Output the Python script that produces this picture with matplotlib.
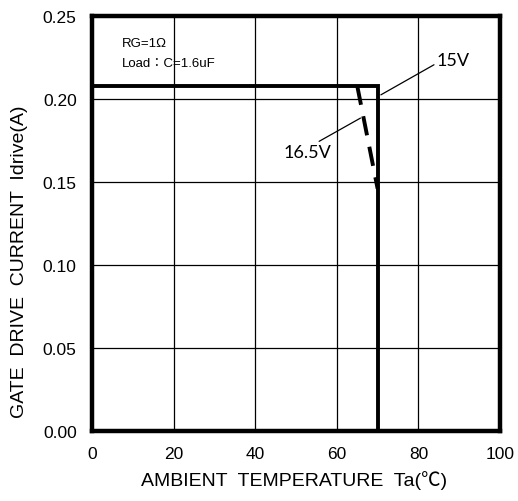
import matplotlib
matplotlib.use("Agg")
import matplotlib.pyplot as plt

# Data
temp_15v = [0, 70, 70]
idrive_15v = [0.208, 0.208, 0.0]
temp_165v = [65, 70]
idrive_165v = [0.208, 0.146]
xticks = [0, 20, 40, 60, 80, 100]
yticks = [0.00, 0.05, 0.10, 0.15, 0.20, 0.25]

JP = ["Liberation Sans", "Noto Sans CJK JP", "DejaVu Sans"]

fig = plt.figure(figsize=(5.18, 5.02), dpi=100)
ax = fig.add_axes([92/518, 70/502, 408/518, 415/502])

ax.plot(temp_15v, idrive_15v, color="black", lw=2.8, solid_joinstyle="miter", zorder=3)
ax.plot(temp_165v, idrive_165v, color="black", lw=2.8, dashes=(5, 3), zorder=3)

ax.set_xlim(0, 100)
ax.set_ylim(0, 0.25)
ax.set_xticks(xticks)
ax.set_yticks(yticks)
ax.set_xticklabels([str(v) for v in xticks], fontsize=12.5, family="Liberation Sans")
ax.set_yticklabels([f"{v:.2f}" for v in yticks], fontsize=12.5, family="Liberation Sans")
ax.tick_params(length=0, pad=11)
ax.grid(True, color="black", lw=0.9)
ax.set_axisbelow(True)
for s in ax.spines.values():
    s.set_linewidth(3.2)

ax.set_xlabel("AMBIENT  TEMPERATURE  Ta(℃)", fontsize=14, family=JP)
ax.xaxis.set_label_coords(0.495, -0.094)
ax.set_ylabel("GATE  DRIVE  CURRENT  Idrive(A)", fontsize=14, family=JP)
ax.yaxis.set_label_coords(-0.158, 0.41)

ax.text(7.4, 0.2335, "RG=1Ω", fontsize=9.5, va="center", ha="left", family=JP)
ax.text(7.4, 0.2215, "Load：C=1.6uF", fontsize=9.5, va="center", ha="left", family=JP)

ax.annotate("15V", xy=(70.8, 0.2025), xytext=(84.5, 0.2235), fontsize=13,
            family="Lato", va="center", ha="left",
            arrowprops=dict(arrowstyle="-", color="black", lw=0.9,
                            shrinkA=0, shrinkB=0, relpos=(0, 0.3)))
ax.annotate("16.5V", xy=(65.8, 0.1885), xytext=(52.7, 0.168), fontsize=13,
            family="Lato", va="center", ha="center",
            arrowprops=dict(arrowstyle="-", color="black", lw=0.9,
                            shrinkA=0, shrinkB=0, relpos=(0.65, 1.0)))

fig.savefig("out.png", dpi=100)
